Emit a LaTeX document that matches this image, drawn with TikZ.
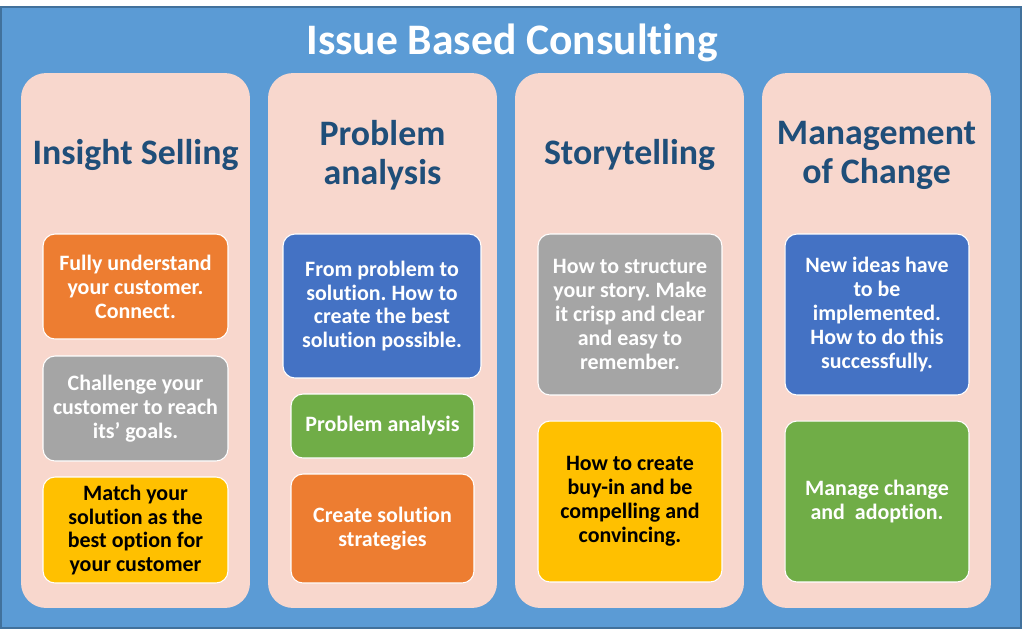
\documentclass[tikz,border=0pt]{standalone}
\usepackage{fontspec}
\setmainfont{Carlito}[Ligatures={TeX,NoCommon}]
\usepackage{tikz}
\frenchspacing

\definecolor{frameblue}{HTML}{5B9BD5}
\definecolor{frameedge}{HTML}{41719C}
\definecolor{panelpink}{HTML}{F8D7CD}
\definecolor{titleblue}{HTML}{1F4E79}
\definecolor{cardorange}{HTML}{ED7D31}
\definecolor{cardgray}{HTML}{A5A5A5}
\definecolor{cardyellow}{HTML}{FFC000}
\definecolor{cardblue}{HTML}{4472C4}
\definecolor{cardgreen}{HTML}{70AD47}

\tikzset{
  panel/.style={fill=panelpink, rounded corners=0.5cm, minimum width=4.58cm,
    minimum height=10.7cm, inner sep=0pt},
  paneltitle/.style={text=titleblue, align=center,
    font=\fontsize{20.4}{22.2}\selectfont\bfseries},
  card/.style={draw=white, line width=0.6pt, rounded corners=0.24cm, inner sep=0pt,
    align=center, text=white, font=\fontsize{12.5}{13.6}\selectfont\bfseries},
  darktext/.style={text=black}
}

\begin{document}
\begin{tikzpicture}[x=0.02cm, y=-0.02cm]
      \useasboundingbox (0,0) rectangle (1024,630);
      \fill[white] (0,0) rectangle (1024,630);
      \draw[fill=frameblue, draw=frameedge, line width=1pt] (1,7) rectangle (1021,628);
      \node[text=white, font=\fontsize{24.8}{28}\selectfont\bfseries] (title) at (512,43) {Issue Based Consulting};
      % Insight Selling
      \node[panel] (insight) at (135.5,340.5) {};
      \node[paneltitle] (insightT) at (135.5,155) {Insight Selling};
      \node[card, fill=cardorange, minimum width=3.7cm, minimum height=2.1cm] (connect) at (135.5,286.5)
        {Fully understand\\your customer.\\Connect.};
      \node[card, fill=cardgray, minimum width=3.7cm, minimum height=2.1cm] (challenge) at (135.5,408.5)
        {Challenge your\\customer to reach\\its’ goals.};
      \node[card, darktext, fill=cardyellow, minimum width=3.7cm, minimum height=2.12cm] (match) at (135.5,530)
        {Match your\\solution as the\\best option for\\your customer};
      % Problem analysis
      \node[panel] (problem) at (382.5,340.5) {};
      \node[paneltitle] (problemT) at (382.5,155) {Problem\\analysis};
      \node[card, fill=cardblue, minimum width=3.96cm, minimum height=2.88cm] (fromproblem) at (382,306)
        {From problem to\\solution. How to\\create the best\\solution possible.};
      \node[card, fill=cardgreen, minimum width=3.66cm, minimum height=1.28cm] (analysis) at (382.5,426)
        {Problem analysis};
      \node[card, fill=cardorange, minimum width=3.66cm, minimum height=2.18cm] (strategies) at (382.5,528.5)
        {Create solution\\strategies};
      % Storytelling
      \node[panel] (story) at (629.5,340.5) {};
      \node[paneltitle] (storyT) at (629.5,155) {Storytelling};
      \node[card, fill=cardgray, minimum width=3.68cm, minimum height=3.22cm] (structure) at (630,314.5)
        {How to structure\\your story. Make\\it crisp and clear\\and easy to\\remember.};
      \node[card, darktext, fill=cardyellow, minimum width=3.68cm, minimum height=3.22cm] (buyin) at (630,501.5)
        {How to create\\buy-in and be\\compelling and\\convincing.};
      % Management of Change
      \node[panel] (change) at (876.5,340.5) {};
      \node[paneltitle] (changeT) at (876.5,155) {Management\\of Change};
      \node[card, fill=cardblue, minimum width=3.68cm, minimum height=3.22cm] (ideas) at (877,314.5)
        {New ideas have\\to be\\implemented.\\How to do this\\successfully.};
      \node[card, fill=cardgreen, minimum width=3.68cm, minimum height=3.22cm] (adoption) at (877,501.5)
        {Manage change\\and\ \ adoption.};
\end{tikzpicture}
\end{document}
